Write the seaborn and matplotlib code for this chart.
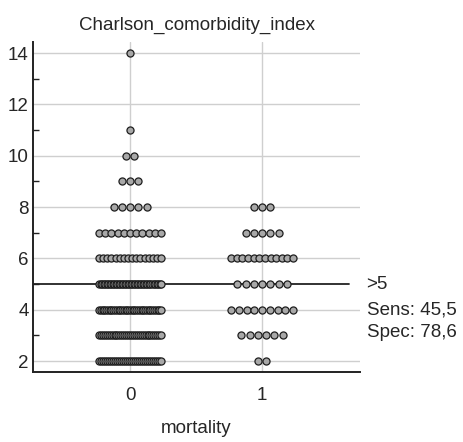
import numpy as np
import pandas as pd
import seaborn as sns
import matplotlib.pyplot as plt

# values of the index and how many patients sit on each one
values = [2, 3, 4, 5, 6, 7, 8, 9, 10, 11, 14]
counts_alive = [32, 33, 36, 42, 16, 11, 5, 3, 2, 1, 1]
counts_dead = [2, 6, 9, 7, 12, 5, 3, 0, 0, 0, 0]
groups = ["0", "1"]
cutoff = 5
cutoff_label = ">5"
sens_label = "Sens: 45,5"
spec_label = "Spec: 78,6"

# build long data
rows = []
for g, counts in enumerate([counts_alive, counts_dead]):
    for v, n in zip(values, counts):
        for i in range(n):
            rows.append((g, v, i, n))
df = pd.DataFrame(rows, columns=["group", "value", "i", "n"])

# dot-plot layout: spread dots in a row, squeeze rows that get too wide
step = 0.0625
max_half = 0.235
spacing = np.where((df["n"] - 1) * step / 2 > max_half,
                   2 * max_half / (df["n"] - 1).clip(lower=1), step)
df["x"] = df["group"] + (df["i"] - (df["n"] - 1) / 2) * spacing

sns.set_style("white")
plt.rcParams["font.family"] = ["Liberation Sans", "DejaVu Sans"]
plt.rcParams["font.size"] = 13.5

fig = plt.figure(figsize=(4.63, 4.42), dpi=100)
ax = fig.add_axes([0.0713, 0.158, 0.7064, 0.747])

ax.set_axisbelow(True)
for y in range(2, 15, 2):
    ax.axhline(y, color="#cfcfcf", lw=1, zorder=0)
for x in range(len(groups)):
    ax.axvline(x, color="#cfcfcf", lw=1, zorder=0)

ax.axhline(cutoff, xmin=0, xmax=0.966, color="#222222", lw=1.3, zorder=1)

sns.scatterplot(data=df, x="x", y="value", ax=ax, s=26, color="#a8a8a8",
                edgecolor="#1e1e1e", linewidth=0.9, zorder=3, legend=False)

ax.set_xlim(-0.735, 1.742)
ax.set_ylim(1.57, 14.43)
ax.set_xticks(range(len(groups)))
ax.set_xticklabels(groups)
ax.set_yticks(range(2, 15, 2))
ax.set_yticks(range(3, 15, 2), minor=True)
ax.tick_params(axis="both", which="major", direction="in", length=7, width=1.2, color="#222222")
ax.tick_params(axis="y", which="minor", direction="in", length=4, width=1.0, color="#222222", left=True)
ax.tick_params(axis="x", pad=11)
ax.tick_params(axis="y", pad=3)

for side in ["top", "right"]:
    ax.spines[side].set_visible(False)
for side in ["left", "bottom"]:
    ax.spines[side].set_color("#222222")
    ax.spines[side].set_linewidth(1.4)

ax.set_xlabel("mortality", labelpad=11)
ax.set_ylabel("")
ax.set_title("Charlson_comorbidity_index", fontsize=13.5, pad=9)

ax.text(1.02, cutoff, cutoff_label, transform=ax.get_yaxis_transform(), va="center", ha="left")
ax.text(1.02, cutoff - 1.0, sens_label, transform=ax.get_yaxis_transform(), va="center", ha="left")
ax.text(1.02, cutoff - 1.9, spec_label, transform=ax.get_yaxis_transform(), va="center", ha="left")

fig.savefig("out.png", dpi=100)
